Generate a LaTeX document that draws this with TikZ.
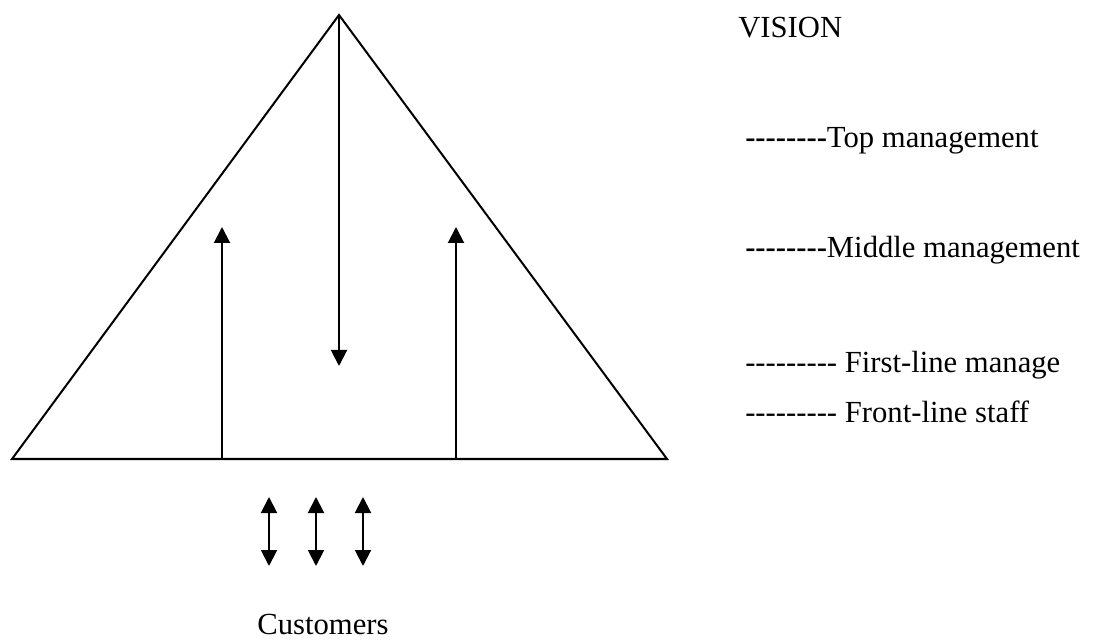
\documentclass[tikz,border=0pt]{standalone}
\usepackage{fontspec}
\setmainfont{Liberation Serif}
\usetikzlibrary{arrows.meta}

\newcount\hycnt
\newcommand\hyphens[1]{\hycnt=0 \loop\mbox{-}\advance\hycnt by 1 \ifnum\hycnt<#1\repeat}

\tikzset{
  line/.style={line width=1.5pt},
  arr/.style={line width=1.5pt,-{Triangle[width=12pt,length=12pt]}},
  darr/.style={line width=1.5pt,{Triangle[width=12pt,length=12pt]}-{Triangle[width=12pt,length=12pt]}},
  lbl/.style={anchor=base west,inner sep=0pt,font=\fontsize{23}{28}\selectfont}
}

\begin{document}
\begin{tikzpicture}[x=0.75pt,y=-0.75pt]
\useasboundingbox (0,0) rectangle (1096,641);

\coordinate(top) at (339,15);
\coordinate(left) at (12,459);
\coordinate(right) at (667,459);

\draw[line,line join=miter] (left) -- (top) -- (right) -- cycle;

\coordinate(down) at (339,366);
\coordinate(up1b) at (222,459);
\coordinate(up1) at (222,227);
\coordinate(up2b) at (456,459);
\coordinate(up2) at (456,227);

\draw[arr] (top) -- (down);
\draw[arr] (up1b) -- (up1);
\draw[arr] (up2b) -- (up2);

\coordinate(c1a) at (269,497);
\coordinate(c1b) at (269,566);
\coordinate(c2a) at (316,497);
\coordinate(c2b) at (316,566);
\coordinate(c3a) at (363,497);
\coordinate(c3b) at (363,566);

\draw[darr] (c1a) -- (c1b);
\draw[darr] (c2a) -- (c2b);
\draw[darr] (c3a) -- (c3b);

\node[lbl,anchor=base](cust) at (323,634) {Customers};

\node[lbl](vision) at (738,38) {VISION};
\node[lbl](topm) at (745,148) {\textbf{\hyphens{8}}Top management};
\node[lbl](midm) at (745,258) {\textbf{\hyphens{8}}Middle management};
\node[lbl](firstm) at (745,373) {\hyphens{9} First-line manage};
\node[lbl](front) at (745,422) {\hyphens{9} Front-line staff};

\end{tikzpicture}
\end{document}
